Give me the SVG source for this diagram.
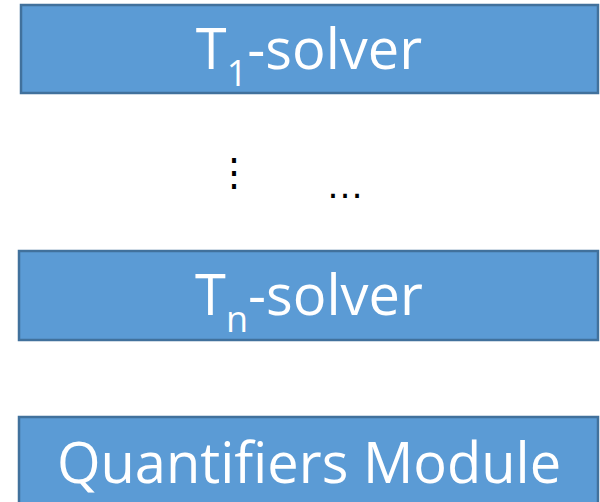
<svg xmlns="http://www.w3.org/2000/svg" width="600" height="502" viewBox="0 0 600 502">
  <style>
    .box { fill: #5B9BD5; stroke: #41719C; stroke-width: 2.5; }
    .lbl { fill: #FFFFFF; font-family: "Open Sans", "Liberation Sans", sans-serif; font-size: 56px; }
    .sub { font-size: 36px; }
    .dots { fill: #000000; font-family: "Liberation Sans", sans-serif; font-size: 38px; }
  </style>
  <g id="t1-solver">
    <rect class="box" x="21" y="5" width="577" height="88"/>
    <text class="lbl" x="309" y="69" text-anchor="middle">T<tspan class="sub" dy="17">1</tspan><tspan dy="-17">-solver</tspan></text>
  </g>
  <g id="ellipsis">
    <text class="dots" x="234" y="186" text-anchor="middle" font-family="DejaVu Sans">⋮</text>
    <text class="dots" x="345" y="198" text-anchor="middle">…</text>
  </g>
  <g id="tn-solver">
    <rect class="box" x="19" y="251" width="579" height="89"/>
    <text class="lbl" x="309" y="315" text-anchor="middle">T<tspan class="sub" dy="17">n</tspan><tspan dy="-17">-solver</tspan></text>
  </g>
  <g id="quantifiers-module">
    <rect class="box" x="19" y="417" width="579" height="90"/>
    <text class="lbl" x="309" y="483" text-anchor="middle">Quantifiers Module</text>
  </g>
  <g id="connectors"/>
</svg>
